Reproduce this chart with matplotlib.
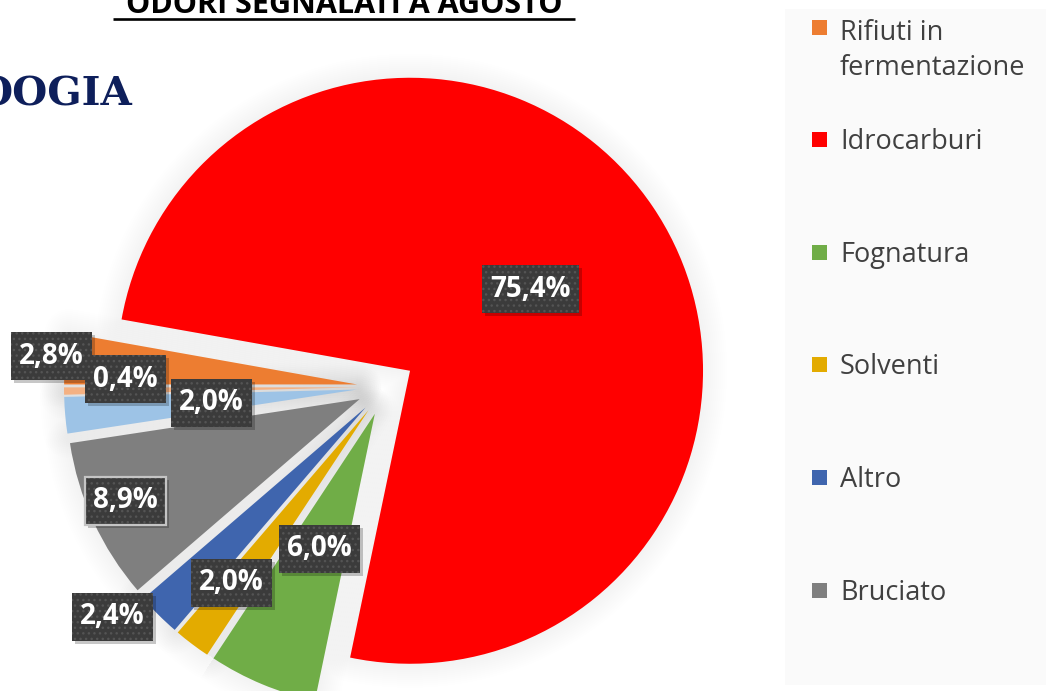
import numpy as np
import matplotlib
matplotlib.use("Agg")
import matplotlib.pyplot as plt
from matplotlib.patches import Wedge, Rectangle

## data (order = Excel series order, clockwise)
slice_values = [2.8, 75.4, 6.0, 2.0, 2.4, 8.9, 2.0, 0.4]
slice_colors = ['#ED7D31', '#FF0000', '#70AD47', '#E3AB00', '#3F65AE',
                '#7F7F7F', '#9DC3E6', '#F4B183']
# only the first six legend entries are visible in the picture
legend_labels = ['Rifiuti in\nfermentazione', 'Idrocarburi', 'Fognatura',
                 'Solventi', 'Altro', 'Bruciato']
title = 'ODORI SEGNALATI A AGOSTO'
logo_text = 'OOGIA'

## layout (pixels, y measured from the top of the image)
W, H = 1046, 691
CX, CY = 386, 387
R = 293
EXPL = 29
label_xy = [(51.5, 356), (530.5, 289), (319.5, 548.5), (231.5, 583),
            (112.5, 616.5), (125.5, 500.5), (211.5, 402.5), (125.5, 379)]
bordered = [False, False, False, False, False, True, False, False]
TXT = '#404040'
plt.rcParams['font.family'] = ['Open Sans', 'DejaVu Sans']


def fy(y):
    """image y (top-down) -> axes y (bottom-up)"""
    return H - y


fig = plt.figure(figsize=(W / 100, H / 100), dpi=100)
ax = fig.add_axes([0, 0, 1, 1])

wedges, _ = ax.pie(slice_values, colors=slice_colors, startangle=180,
                   counterclock=False, radius=R, center=(CX, fy(CY)),
                   explode=[EXPL] * len(slice_values),
                   wedgeprops=dict(linewidth=0, zorder=2))

# soft glow around the slices
for w in wedges:
    for lw in range(4, 52, 4):
        ax.add_patch(Wedge(w.center, w.r, w.theta1, w.theta2, facecolor='none',
                           edgecolor='k', alpha=0.0055, linewidth=lw * 0.72,
                           joinstyle='round', zorder=1))

ax.set_xlim(0, W)
ax.set_ylim(0, H)
ax.set_aspect('equal')
ax.axis('off')

# data labels
for v, (lx, ly), b in zip(slice_values, label_xy, bordered):
    txt = f"{v:.1f}".replace('.', ',') + '%'
    bw = 97 if len(txt) > 4 else 81
    bh = 48
    x0, y0 = lx - bw / 2, fy(ly) - bh / 2
    ax.add_patch(Rectangle((x0 + 3, y0 - 3), bw, bh, facecolor='k', alpha=0.22,
                           linewidth=0, zorder=5))
    ax.add_patch(Rectangle((x0, y0), bw, bh, facecolor='#3b3b3b',
                           edgecolor='#545454', hatch='...', linewidth=0, zorder=6))
    if b:
        ax.add_patch(Rectangle((x0, y0), bw, bh, facecolor='none',
                               edgecolor='#c4c4c4', linewidth=1.6, zorder=7))
    ax.text(lx, fy(ly), txt, color='white', fontsize=20, fontweight='bold',
            ha='center', va='center', zorder=8)

# title (cut at the top in the original) with underline
ax.text(344, fy(13), title, fontsize=22, fontweight='bold', color='black',
        ha='center', va='baseline', zorder=9)
ax.plot([113, 575], [fy(19), fy(19)], color='black', linewidth=1.9,
        solid_capstyle='butt', zorder=9)

# partial logo at the left
ax.text(132, fy(105), logo_text, fontsize=29, fontweight='bold',
        family='DejaVu Serif', color='#0E1F5B', ha='right', va='baseline',
        zorder=9)

# legend panel
ax.add_patch(Rectangle((785, fy(685)), W - 785 + 5, 685 - 9,
                       facecolor='#FAFAFA', edgecolor='none', zorder=3))
for i, (lab, col) in enumerate(zip(legend_labels, slice_colors)):
    yc = 27 + 112.6 * i
    ax.add_patch(Rectangle((812, fy(yc) - 7.5), 15, 15, facecolor=col,
                           linewidth=0, zorder=4))
    # baseline alignment refers to the last line of a multi-line label
    y_last = yc + 38 * lab.count('\n')
    ax.text(840, fy(y_last + 9.5), lab, fontsize=19.5, color=TXT, ha='left',
            va='baseline', linespacing=1.33, zorder=4)

fig.savefig('out.png', dpi=100)
